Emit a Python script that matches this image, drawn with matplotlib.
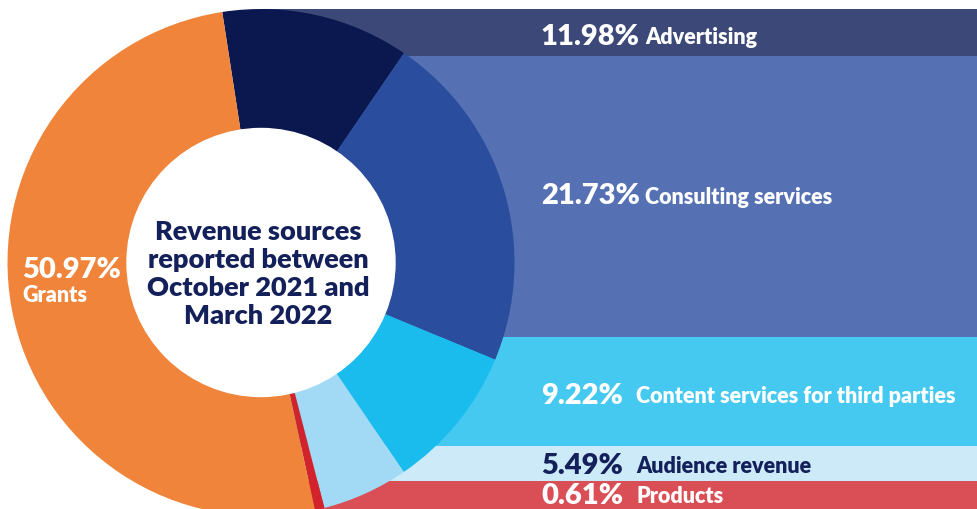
import matplotlib.pyplot as plt
from matplotlib.patches import Circle

plt.rcParams['font.family'] = ['Lato', 'DejaVu Sans']

# revenue shares, clockwise from the top
sources = ["Advertising", "Consulting services", "Content services for third parties",
           "Audience revenue", "Products", "Grants"]
shares = [11.98, 21.73, 9.22, 5.49, 0.61, 50.97]
slice_colors = ["#0b1850", "#2a4d9e", "#1abcee", "#a2daf5", "#d2232d", "#f0843a"]
band_colors = ["#3b4878", "#5571b3", "#46c9f1", "#cdeaf8", "#da4f55"]
text_colors = ["white", "white", "white", "#14205a", "white"]
# label bands on the right (top / bottom edge, measured from the top)
band_top = [10, 57, 338, 447, 482]
band_bottom = [57, 338, 447, 482, 520]

W, H = 977, 510
cx, cy = 261, H - 263.5
R, r = 253.5, 134

fig = plt.figure(figsize=(W / 100, H / 100), dpi=100)
ax = fig.add_axes([0, 0, 1, 1])

# coloured bands behind the ring
for top, bot, col in zip(band_top, band_bottom, band_colors):
    ax.barh((H - top + H - bot) / 2, W - cx, height=bot - top, left=cx,
            color=col, linewidth=0, zorder=1)

wedges, _ = ax.pie(shares, colors=slice_colors, startangle=98.8, counterclock=False,
                   radius=R, center=(cx, cy),
                   wedgeprops=dict(width=R - r, linewidth=0))
for w in wedges:
    w.set_zorder(2)
ax.add_patch(Circle((cx, cy), r, color="white", zorder=3))

ax.set_xlim(0, W)
ax.set_ylim(0, H)
ax.set_aspect("equal")
ax.axis("off")

# band labels
label_y = [37, 196, 396, 466, 496]
name_x = [645, 645, 636, 636, 636]
for i in range(5):
    ax.text(541, H - label_y[i], f"{shares[i]:.2f}%", color=text_colors[i],
            fontsize=21, fontweight="heavy", va="center", ha="left", zorder=5)
    ax.text(name_x[i], H - label_y[i] - 1, sources[i], color=text_colors[i],
            fontsize=15.5, fontweight="heavy", va="center", ha="left", zorder=5)

ax.text(22, H - 270, f"{shares[5]:.2f}%", color="white", fontsize=21,
        fontweight="heavy", va="center", ha="left", zorder=5)
ax.text(22, H - 295, sources[5], color="white", fontsize=15.5,
        fontweight="heavy", va="center", ha="left", zorder=5)

ax.text(cx - 3, H - 274, "Revenue sources\nreported between\nOctober 2021 and\nMarch 2022",
        color="#14205a", fontsize=19.5, fontweight="heavy", ha="center", va="center",
        linespacing=1.2, zorder=5)

fig.savefig("out.png", dpi=100)
